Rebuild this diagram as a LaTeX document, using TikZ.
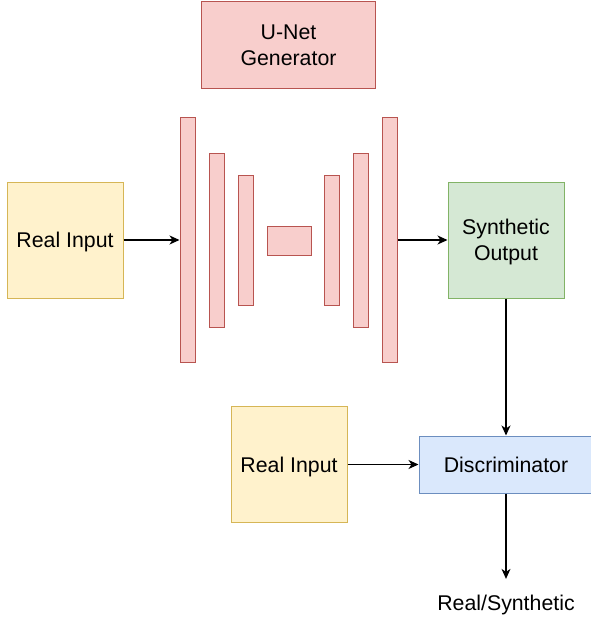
\documentclass[tikz,border=0pt]{standalone}
\usepackage{fontspec}
\setmainfont{Liberation Sans}
\usetikzlibrary{arrows.meta}

\definecolor{genfill}{HTML}{F8CECC}
\definecolor{gendraw}{HTML}{B85450}
\definecolor{infill}{HTML}{FFF2CC}
\definecolor{indraw}{HTML}{D6B656}
\definecolor{outfill}{HTML}{D5E8D4}
\definecolor{outdraw}{HTML}{82B366}
\definecolor{discfill}{HTML}{DAE8FC}
\definecolor{discdraw}{HTML}{6C8EBF}

\tikzset{
  box/.style={rectangle, line width=1pt, inner sep=0pt, align=center,
    text depth=0pt, font=\fontsize{21.3}{25.8}\selectfont},
  genbox/.style={box, fill=genfill, draw=gendraw},
  inbox/.style={box, fill=infill, draw=indraw,
    minimum width=116pt, minimum height=116pt},
  outbox/.style={box, fill=outfill, draw=outdraw,
    minimum width=116pt, minimum height=116pt},
  discbox/.style={box, fill=discfill, draw=discdraw},
  layer/.style={genbox, minimum width=15pt},
  flow/.style={line width=1.2pt, -{Stealth[length=10pt, width=9pt, inset=3pt]}}
}

\begin{document}
\begin{tikzpicture}[x=1pt, y=-1pt]
  \useasboundingbox (0,0) rectangle (591,619);

  % generator title
  \node[genbox, minimum width=174pt, minimum height=87pt] (unet) at (288.5,45) {U-Net\\Generator};

  % encoder / decoder layers
  \node[layer, minimum height=245pt] (enc1) at (187.5,240) {};
  \node[layer, minimum height=174pt] (enc2) at (216.5,240) {};
  \node[layer, minimum height=130pt] (enc3) at (245.5,240.5) {};
  \node[genbox, minimum width=44pt, minimum height=29pt] (neck) at (289,240.5) {};
  \node[layer, minimum height=130pt] (dec3) at (332,240.5) {};
  \node[layer, minimum height=174pt] (dec2) at (361,240) {};
  \node[layer, minimum height=245pt] (dec1) at (390,240) {};

  % inputs and outputs
  \node[inbox] (realA) at (65,240) {Real Input};
  \node[outbox] (synth) at (506,240) {Synthetic\\Output};
  \node[inbox] (realB) at (289,464.5) {Real Input};
  \node[discbox, minimum width=174pt, minimum height=57pt] (disc) at (506,464.5) {Discriminator};
  \node[font=\fontsize{21.3}{25.8}\selectfont, inner xsep=0pt, inner ysep=15.5pt, anchor=base] (verdict) at (506,610) {Real/Synthetic};

  % connectors
  \draw[flow] (realA.east) -- (enc1.west);
  \draw[flow] (dec1.east) -- (synth.west);
  \draw[flow] (synth.south) -- (disc.north);
  \draw[flow] (realB.east) -- (disc.west);
  \draw[flow] (disc.south) -- (verdict.north);
\end{tikzpicture}
\end{document}
